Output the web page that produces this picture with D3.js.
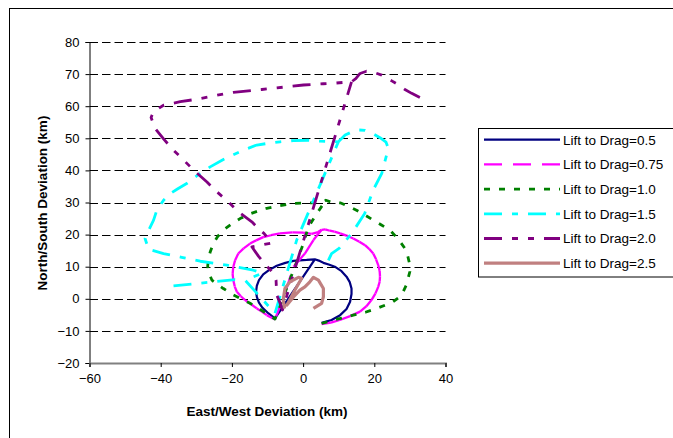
<!DOCTYPE html>
<html>
<head>
<meta charset="utf-8">
<script src="https://cdn.jsdelivr.net/npm/d3@7/dist/d3.min.js"></script>
<style>
  html, body { margin: 0; padding: 0; background: #fff; }
  svg { display: block; font-family: "Liberation Sans", Arial, sans-serif; }
</style>
</head>
<body>
<svg id="chart" width="673" height="438"></svg>
<script>
// ---------------- DATA ----------------
const seriesNames = ["Lift to Drag=0.5", "Lift to Drag=0.75", "Lift to Drag=1.0",
                     "Lift to Drag=1.5", "Lift to Drag=2.0", "Lift to Drag=2.5"];
const xTicks = [-60, -40, -20, 0, 20, 40];
const yTicks = [-20, -10, 0, 10, 20, 30, 40, 50, 60, 70, 80];

// L/D = 0.5
const ld05X = [5.2, 8.0, 10.4, 12.2, 13.2, 13.6, 13.6, 13.1, 12.2, 10.8, 8.9, 7.2, 5.7, 4.4, 3.3, 1.0, -1.0, -2.7, -5.0, -7.4, -9.5, -11.2, -12.4, -13.0, -13.2, -13.0, -12.4, -11.4, -9.8, -7.9, 3.3];
const ld05Y = [-7.5, -6.6, -5.1, -3.2, -0.9, 1.5, 3.2, 5.2, 6.9, 8.6, 10.0, 10.7, 11.2, 11.9, 12.3, 12.1, 12.0, 11.8, 11.2, 10.3, 9.0, 7.6, 5.8, 4.0, 2.2, 0.6, -1.2, -2.8, -4.5, -6.1, 12.3];

// L/D = 0.75
const ld075X = [5.2, 7.8, 10.3, 13.2, 16.0, 17.8, 19.2, 20.3, 21.1, 21.5, 21.6, 21.5, 21.1, 20.5, 19.7, 18.6, 17.4, 15.8, 14.1, 12.2, 10.4, 8.8, 7.5, 6.2, 5.2, 4.2, 2.4, 0.0, -3.0, -6.5, -9.0, -11.2, -13.2, -14.9, -16.7, -18.2, -19.1, -19.6, -19.8, -19.6, -19.2, -18.6, -17.5, -16.3, -14.6, -13.0, -11.6, -10.2, -9.0, -7.9, -5.0, -2.7, 0.5, 2.9, 5.2];
const ld075Y = [-7.9, -7.4, -6.6, -5.4, -4.0, -2.3, -0.4, 1.6, 3.7, 5.3, 6.9, 8.7, 10.5, 12.3, 14.1, 15.5, 16.7, 17.8, 18.8, 19.7, 20.4, 20.9, 21.2, 21.6, 21.5, 20.8, 20.2, 20.6, 20.7, 20.4, 19.8, 19.2, 18.2, 17.2, 15.7, 14.1, 12.0, 10.0, 7.8, 5.8, 3.8, 2.2, 0.8, -0.4, -1.7, -3.0, -4.0, -5.1, -5.8, -6.4, 2.0, 10.0, 14.1, 18.3, 21.5];

// L/D = 1.0
const ld10X = [5.2, 8.5, 11.0, 14.1, 17.5, 20.7, 23.0, 25.3, 27.0, 28.1, 29.0, 29.5, 30.0, 30.0, 29.4, 28.6, 26.8, 24.4, 22.0, 19.7, 17.5, 15.0, 12.8, 10.4, 8.2, 6.4, 4.5, 1.9, -2.7, -6.5, -10.2, -12.1, -15.0, -17.7, -20.2, -22.4, -24.0, -25.2, -26.1, -26.6, -26.8, -26.6, -25.6, -24.1, -22.4, -19.6, -17.2, -14.9, -12.2, -10.0, -7.9, -5.0, -2.3, 0.0, 1.5, 3.8, 6.4];
const ld10Y = [-7.7, -6.6, -6.0, -5.1, -4.2, -3.0, -2.0, -0.9, 0.5, 2.2, 4.3, 6.4, 8.5, 10.5, 13.3, 15.7, 18.5, 21.4, 23.0, 24.5, 26.0, 27.6, 28.8, 29.9, 30.0, 30.7, 29.9, 29.9, 29.7, 29.0, 28.2, 27.6, 26.4, 25.0, 23.2, 21.4, 19.4, 17.3, 14.6, 12.1, 10.2, 8.4, 5.8, 4.5, 3.2, 1.2, -0.1, -1.4, -3.2, -4.8, -6.3, 2.2, 10.0, 17.0, 22.4, 26.5, 30.7];

// L/D = 1.5 (null = break in the line)
const ld15X = [7.1, 8.0, 10.1, 13.7, 17.3, 19.7, 22.1, 23.5, 23.9, 23.3, 21.6, 19.5, 17.4, 15.5, 14.1, 11.8, 9.9, 4.7, 1.5, -2.7, -6.5, -10.0, -13.0, -16.8, -19.8, -22.4, -26.1, -29.5, -32.7, -35.3, -37.3, -39.2, -41.1, -42.0, -43.3, -44.4, -43.4, -39.2, -34.1, -28.9, -21.4, -14.0, -11.4, -16.3, -7.9, -1.8, 9.9, null, -36.4, -19.1, -16.3];
const ld15Y = [12.0, 14.1, 15.7, 20.4, 26.6, 33.9, 39.1, 45.0, 47.0, 48.8, 50.2, 51.5, 52.5, 52.6, 52.2, 51.0, 48.9, 49.1, 49.4, 49.3, 48.9, 48.4, 47.9, 46.3, 44.8, 43.4, 41.1, 38.6, 35.9, 34.2, 32.8, 30.7, 27.6, 24.5, 21.5, 18.8, 15.4, 14.1, 12.9, 11.7, 10.5, 8.9, 8.0, 5.8, -4.5, 18.3, 48.9, null, 4.0, 6.0, 5.8];

// L/D = 2.0
const ld20X = [32.8, 30.5, 28.6, 26.1, 24.9, 22.1, 20.0, 17.8, 16.0, 14.8, 13.6, 9.0, 5.7, 0.1, -7.4, -11.6, -19.6, -21.4, -30.3, -34.5, -39.2, -42.0, -42.7, -41.6, -39.2, -36.4, -33.1, -30.3, -27.0, -24.2, -21.0, -18.2, -14.4, -12.1, -11.0, -8.8, -14.4, -12.5, -10.7, -8.4, -7.6, -7.4, -6.4, -5.8, 13.6];
const ld20Y = [62.7, 64.0, 65.2, 67.1, 67.9, 69.7, 70.5, 70.9, 70.2, 68.6, 67.6, 67.2, 67.0, 66.6, 65.7, 65.2, 64.3, 64.0, 62.1, 61.4, 60.3, 58.3, 56.5, 53.1, 49.8, 46.3, 42.7, 39.6, 36.4, 33.3, 30.2, 27.1, 24.0, 21.4, 20.4, 17.4, 16.2, 13.2, 10.8, 8.0, 5.8, 1.2, -1.5, -3.5, 67.6];

// L/D = 2.5
const ld25X = [-5.2, -5.6, -5.1, -3.7, -1.3, -0.4, -2.4, -4.2, -4.6, -2.7, -0.9, 0.5, 1.9, 2.9, 4.3, 5.7, 5.7, 5.2, 2.9];
const ld25Y = [-3.0, -0.4, 3.2, 5.3, 6.7, 6.4, 2.5, -1.2, -2.0, 0.6, 2.7, 3.7, 5.3, 6.7, 5.8, 3.2, 0.6, -1.4, -3.0];

const seriesColors = ["#000080", "#FF00FF", "#008000", "#00FFFF", "#800080", "#C08080"];
const seriesWidths = [2.2, 2.3, 2.8, 2.8, 2.8, 3.2];
const seriesDashes = [null, "18,11", "6,9", "18,10,6,10", "18,10,6,10,6,10", null];
// whether the dash pattern restarts at every data point
const seriesRestart = [false, true, false, false, false, false];

const seriesData = [
  [ld05X, ld05Y], [ld075X, ld075Y], [ld10X, ld10Y],
  [ld15X, ld15Y], [ld20X, ld20Y], [ld25X, ld25Y]
];

// ---------------- CHART ----------------
const svg = d3.select("#chart");
const plot = { left: 89.5, right: 445.5, top: 42, bottom: 363 };

const x = d3.scaleLinear().domain([-60, 40]).range([plot.left, plot.right]);
const y = d3.scaleLinear().domain([-20, 80]).range([plot.bottom, plot.top]);

// chart area border
svg.append("rect").attr("x", 9.5).attr("y", 8.5).attr("width", 700).attr("height", 500)
  .attr("fill", "#fff").attr("stroke", "#000").attr("stroke-width", 1);

// gridlines
svg.append("g").selectAll("line").data(yTicks.filter(t => t > -20)).join("line")
  .attr("x1", plot.left).attr("x2", plot.right)
  .attr("y1", d => Math.round(y(d)) + 0.5).attr("y2", d => Math.round(y(d)) + 0.5)
  .attr("stroke", "#000").attr("stroke-width", 1).attr("stroke-dasharray", "8.5,4");

// y axis
const yAxis = d3.axisLeft(y).tickValues(yTicks).tickSize(4).tickPadding(6).tickFormat(d3.format("d"));
const gy = svg.append("g").attr("transform", `translate(${plot.left},0)`).call(yAxis);
gy.select(".domain").attr("stroke", "#000");
gy.selectAll(".tick line").attr("stroke", "#000");
gy.selectAll(".tick text").attr("font-size", 13).attr("fill", "#000")
  .attr("font-family", "'Liberation Sans', Arial, sans-serif");

// x axis
const xAxis = d3.axisBottom(x).tickValues(xTicks).tickSize(4).tickPadding(7).tickFormat(d3.format("d"));
const gx = svg.append("g").attr("transform", `translate(0,${plot.bottom})`).call(xAxis);
gx.select(".domain").attr("stroke", "#808080").attr("stroke-width", 2);
gx.selectAll(".tick line").attr("stroke", "#000");
gx.selectAll(".tick text").attr("font-size", 13).attr("fill", "#000")
  .attr("font-family", "'Liberation Sans', Arial, sans-serif");

// axis titles
svg.append("text").attr("x", 267).attr("y", 416).attr("text-anchor", "middle")
  .attr("font-size", 13.5).attr("font-weight", "bold").text("East/West Deviation (km)");
svg.append("text").attr("transform", "translate(46.5,203) rotate(-90)").attr("text-anchor", "middle")
  .attr("font-size", 13.5).attr("font-weight", "bold").text("North/South Deviation (km)");

// series
const gs = svg.append("g");
seriesData.forEach(([xs, ys], i) => {
  const pts = xs.map((v, k) => (v == null || ys[k] == null) ? null : [v, ys[k]]);
  if (!seriesRestart[i]) {
    const line = d3.line().defined(d => d != null).x(d => x(d[0])).y(d => y(d[1]));
    gs.append("path").attr("d", line(pts)).attr("fill", "none")
      .attr("stroke", seriesColors[i]).attr("stroke-width", seriesWidths[i])
      .attr("stroke-linejoin", "round")
      .attr("stroke-dasharray", seriesDashes[i] || null);
  } else {
    const segs = d3.pairs(pts).filter(([a, b]) => a && b);
    gs.append("g").selectAll("line").data(segs).join("line")
      .attr("x1", d => x(d[0][0])).attr("y1", d => y(d[0][1]))
      .attr("x2", d => x(d[1][0])).attr("y2", d => y(d[1][1]))
      .attr("stroke", seriesColors[i]).attr("stroke-width", seriesWidths[i])
      .attr("stroke-dasharray", seriesDashes[i]).attr("stroke-linecap", "butt");
  }
});

// legend
const lg = svg.append("g");
lg.append("rect").attr("x", 478.5).attr("y", 128.5).attr("width", 220).attr("height", 148.5)
  .attr("fill", "#fff").attr("stroke", "#000").attr("stroke-width", 1);
seriesNames.forEach((name, i) => {
  const yy = 139.7 + i * 24.7;
  lg.append("line").attr("x1", 484).attr("x2", 560).attr("y1", yy).attr("y2", yy)
    .attr("stroke", seriesColors[i]).attr("stroke-width", seriesWidths[i])
    .attr("stroke-dasharray", seriesDashes[i] || null);
  lg.append("text").attr("x", 563).attr("y", yy).attr("dy", "0.36em")
    .attr("font-size", 13.5).attr("fill", "#000").text(name);
});
</script>
</body>
</html>
